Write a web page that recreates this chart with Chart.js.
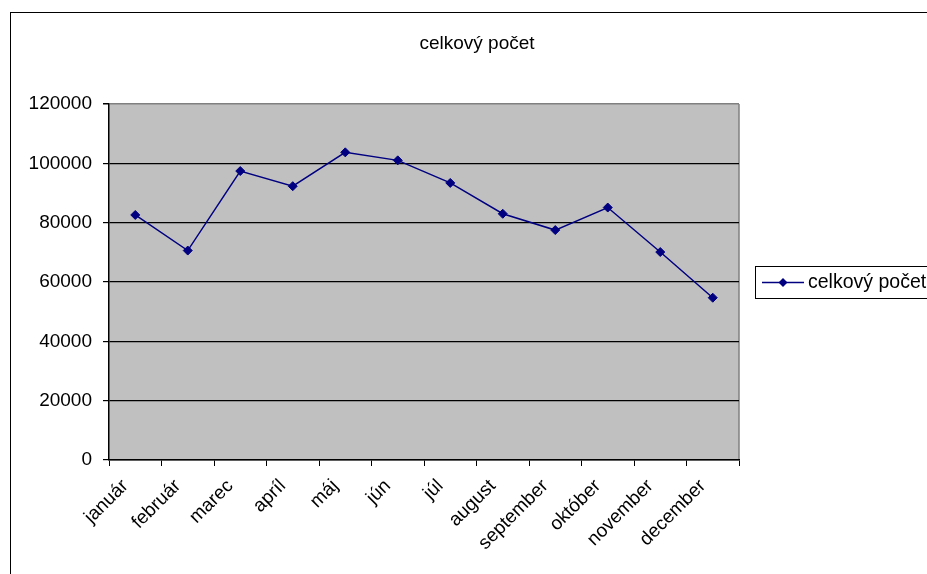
<!DOCTYPE html>
<html><head><meta charset="utf-8">
<script src="https://cdn.jsdelivr.net/npm/chart.js@4"></script>
<style>html,body{margin:0;padding:0;background:#fff;overflow:hidden}</style>
</head><body>
<canvas id="c" width="927" height="574" style="display:block;width:927px;height:574px"></canvas>
<script>
const chartTitle = 'celkový počet';
const seriesLabel = 'celkový počet';
const months = ['január','február','marec','apríl','máj','jún','júl','august','september','október','november','december'];
const values = [82600, 70600, 97400, 92300, 103700, 101000, 93400, 83000, 77500, 85100, 70100, 54700];
const yMin = 0, yMax = 120000, yStep = 20000;

const FONT = "'Liberation Sans', Arial, sans-serif";

const decor = {
  id: 'decor',
  beforeDraw(chart) {
    const {ctx, chartArea: a} = chart;
    ctx.save();
    ctx.fillStyle = '#fff';
    ctx.fillRect(0, 0, chart.width, chart.height);
    // outer chart border
    ctx.strokeStyle = '#000';
    ctx.lineWidth = 1;
    ctx.strokeRect(10.5, 12.5, 1000, 1000);
    // plot area
    ctx.fillStyle = '#C0C0C0';
    ctx.fillRect(a.left, a.top, a.right - a.left, a.bottom - a.top);
    ctx.strokeStyle = '#808080';
    ctx.lineWidth = 1.5;
    ctx.beginPath();
    ctx.moveTo(a.right, a.top);
    ctx.lineTo(a.right, a.bottom);
    ctx.stroke();
    // title
    ctx.fillStyle = '#000';
    ctx.font = '19px ' + FONT;
    ctx.textAlign = 'center';
    ctx.textBaseline = 'middle';
    ctx.fillText(chartTitle, 477, 44);
    ctx.restore();
  },
  afterDraw(chart) {
    const ctx = chart.ctx;
    const ds = chart.data.datasets[0];
    ctx.save();
    ctx.strokeStyle = '#000';
    ctx.lineWidth = 1;
    ctx.strokeRect(755.5, 266.5, 400, 32);
    ctx.strokeStyle = ds.borderColor;
    ctx.lineWidth = 1.5;
    ctx.beginPath();
    ctx.moveTo(762, 282.5);
    ctx.lineTo(804, 282.5);
    ctx.stroke();
    ctx.fillStyle = ds.pointBackgroundColor;
    ctx.beginPath();
    const r = 4.5, cx = 783, cy = 282.5;
    ctx.moveTo(cx, cy - r); ctx.lineTo(cx + r, cy); ctx.lineTo(cx, cy + r); ctx.lineTo(cx - r, cy);
    ctx.closePath(); ctx.fill();
    ctx.fillStyle = '#000';
    ctx.font = '19.5px ' + FONT;
    ctx.textAlign = 'left';
    ctx.textBaseline = 'middle';
    ctx.fillText(ds.label, 808, 283);
    ctx.restore();
  }
};

new Chart(document.getElementById('c'), {
  type: 'line',
  data: {
    labels: months,
    datasets: [{
      label: seriesLabel,
      data: values,
      borderColor: '#000080',
      backgroundColor: '#000080',
      pointBackgroundColor: '#000080',
      pointBorderColor: '#000080',
      borderWidth: 1.5,
      pointStyle: 'rectRot',
      pointRadius: 4.5,
      pointBorderWidth: 1,
      tension: 0,
      fill: false
    }]
  },
  options: {
    responsive: false,
    animation: false,
    layout: { padding: { top: 104, right: 188, left: 0, bottom: 0 } },
    plugins: { legend: { display: false }, title: { display: false }, tooltip: { enabled: false } },
    scales: {
      x: {
        type: 'category',
        offset: true,
        grid: { offset: true, drawOnChartArea: false, drawTicks: true, tickLength: 6, color: '#000', tickColor: '#000' },
        border: { display: true, color: '#000', width: 1.5 },
        ticks: { minRotation: 45, maxRotation: 45, autoSkip: false, color: '#000', font: { family: FONT, size: 19 }, padding: 9, labelOffset: -10 },
        afterFit(s) { s.height = 114; }
      },
      y: {
        min: yMin, max: yMax,
        grid: {
          color: c => (c.tick && c.tick.value === yMax) ? '#808080' : '#000',
          lineWidth: c => (c.tick && c.tick.value === yMax) ? 1.5 : 1.2,
          tickColor: '#000', tickLength: 6, drawTicks: true
        },
        border: { display: true, color: '#000', width: 1.5 },
        ticks: { stepSize: yStep, color: '#000', font: { family: FONT, size: 19 }, padding: 11, callback: v => String(v) },
        afterFit(s) { s.width = 109; }
      }
    }
  },
  plugins: [decor]
});
</script>
</body></html>
